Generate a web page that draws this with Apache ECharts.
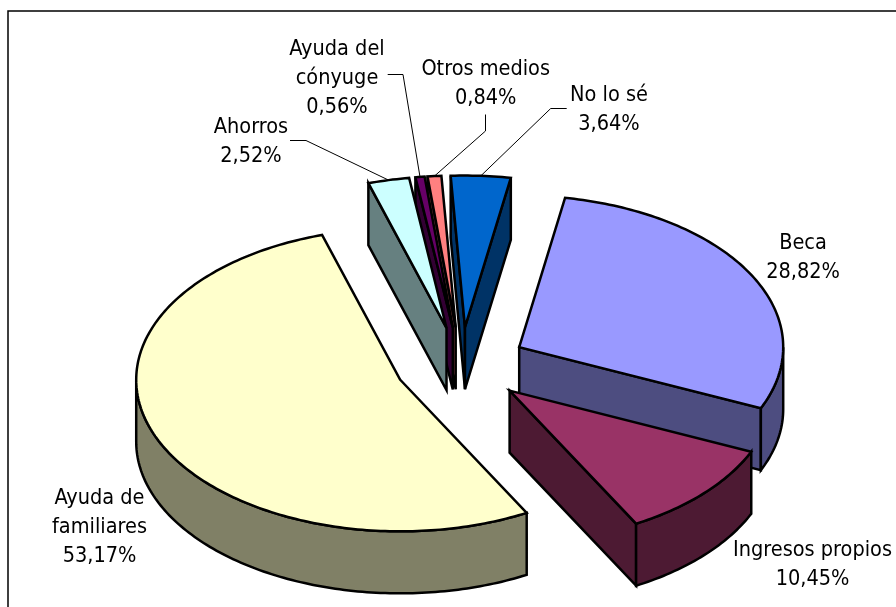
<!DOCTYPE html>
<html><head><meta charset="utf-8">
<style>html,body{margin:0;padding:0;background:#fff}#c{width:896px;height:607px}</style>
<script src="https://cdn.jsdelivr.net/npm/echarts@6/dist/echarts.min.js"></script>
</head><body><div id="c"></div>
<script>
// ---- data (clockwise, starting at the first slice angle) ----
var categories = ['Beca','Ingresos propios','Ayuda de familiares','Ahorros','Ayuda del cónyuge','Otros medios','No lo sé'];
var labelLines = [['Beca'],['Ingresos propios'],['Ayuda de','familiares'],['Ahorros'],['Ayuda del','cónyuge'],['Otros medios'],['No lo sé']];
var values = [28.82,10.45,53.17,2.52,0.56,0.84,3.64];
var valueLabels = ['28,82%','10,45%','53,17%','2,52%','0,56%','0,84%','3,64%'];
// ---- style ----
var topColors  = ['#9999FF','#993366','#FFFFCC','#CCFFFF','#660066','#FF8080','#0066CC'];
var sideColors = ['#4D4D80','#4D1A33','#808066','#668080','#330033','#804040','#003366'];
// ---- layout ----
var CX=461, CY=365, RX=264, RY=151.6, DEPTH=62, EXPLODE=66, FIRST_ANGLE=10;
var labelCenters = [[803,257.5],[812.5,564.5],[99.5,527],[251,142],[337,78],[485.7,84],[609,110]];
var leaderBends = [null,null,null,
  [[290,140.5],[306,140.5]],
  [[387.7,74.5],[403,74.5]],
  [[485.5,114.5],[485.5,131]],
  [[566.7,108.5],[550.7,108.5]]];
var FONT='"DejaVu Sans Condensed","DejaVu Sans"', FONT_SIZE=21.5, LINE_H=29;

var total = values.reduce(function(a,b){return a+b;},0);
var slices = [], acc = FIRST_ANGLE;
values.forEach(function(v,i){
  var sweep = v/total*360, a0 = acc, a1 = acc+sweep, mid = acc+sweep/2;
  acc = a1;
  slices.push({i:i,a0:a0,a1:a1,mid:mid,
    ax:CX+EXPLODE*Math.sin(mid*Math.PI/180),
    ay:CY-EXPLODE*(RY/RX)*Math.cos(mid*Math.PI/180)});
});
function rim(s,deg,dy){
  var r=deg*Math.PI/180;
  return [s.ax+RX*Math.sin(r), s.ay-RY*Math.cos(r)+(dy||0)];
}
function arc(s,a,b,dy){
  var pts=[],n=Math.max(2,Math.ceil(Math.abs(b-a)))+1;
  for(var k=0;k<n;k++) pts.push(rim(s,a+(b-a)*k/(n-1),dy));
  return pts;
}
var order = slices.slice().sort(function(p,q){return p.ay-q.ay;});
var stroke={stroke:'#000',lineWidth:2.5,lineJoin:'miter',miterLimit:6};
function poly(points,fill){
  return {type:'polygon',shape:{points:points},style:Object.assign({fill:fill},stroke)};
}
function sinD(d){return Math.sin(d*Math.PI/180);}

function renderItem(params,api){
  var s = slices[api.value(0)], kids=[], side=sideColors[s.i];
  var apex=[s.ax,s.ay], apexB=[s.ax,s.ay+DEPTH];
  // radial walls that face the viewer
  if(sinD(s.a0)<0) kids.push(poly([apex,rim(s,s.a0),rim(s,s.a0,DEPTH),apexB],side));
  if(sinD(s.a1)>0) kids.push(poly([apex,rim(s,s.a1),rim(s,s.a1,DEPTH),apexB],side));
  // outer wall (front half of the rim)
  var lo=Math.max(s.a0,90), hi=Math.min(s.a1,270);
  if(hi>lo) kids.push(poly(arc(s,lo,hi,0).concat(arc(s,hi,lo,DEPTH)),side));
  // top face
  kids.push(poly([apex].concat(arc(s,s.a0,s.a1,0)),topColors[s.i]));
  // leader line
  var bend=leaderBends[s.i];
  if(bend){
    kids.push({type:'polyline',shape:{points:bend.concat([rim(s,s.mid)])},
      style:{fill:null,stroke:'#000',lineWidth:1}});
  }
  return {type:'group',children:kids};
}
function renderLabel(params,api){
  var i=api.value(0), c=labelCenters[i];
  return {type:'text',style:{
    text:labelLines[i].concat([valueLabels[i]]).join('\n'),
    x:c[0],y:c[1],align:'center',verticalAlign:'middle',
    font:FONT_SIZE+'px '+FONT,lineHeight:LINE_H,fill:'#000'}};
}
var chart=echarts.init(document.getElementById('c'),null,{renderer:'canvas'});
chart.setOption({
  animation:false,
  backgroundColor:'#fff',
  tooltip:{show:false},
  graphic:[{type:'rect',silent:true,shape:{x:8,y:11,width:1200,height:1200},
    style:{fill:null,stroke:'#000',lineWidth:1.5}}],
  series:[
    {type:'custom',coordinateSystem:'none',renderItem:renderItem,silent:true,z:2,
     data:order.map(function(s){return {name:categories[s.i],value:[s.i,values[s.i]]};})},
    {type:'custom',coordinateSystem:'none',renderItem:renderLabel,silent:true,z:3,
     data:categories.map(function(n,i){return {name:n,value:[i,values[i]]};})}
  ]
});
</script></body></html>
